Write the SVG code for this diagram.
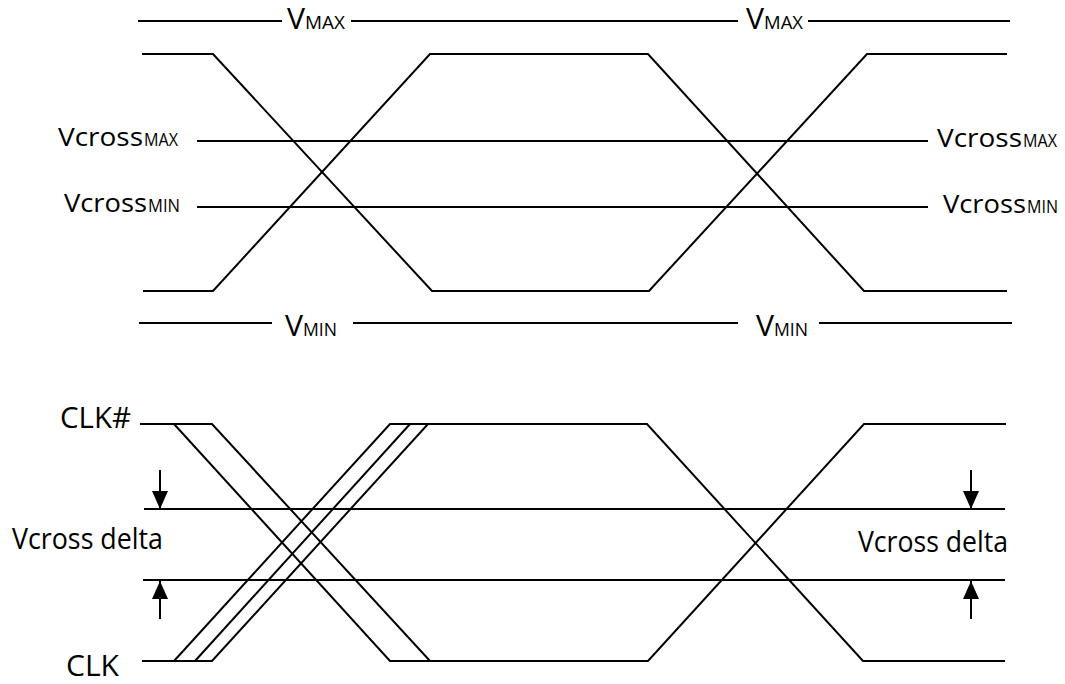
<svg xmlns="http://www.w3.org/2000/svg" width="1065" height="684" viewBox="0 0 1065 684">
<style>
.ln{fill:none;stroke:#000;stroke-width:2;stroke-linejoin:miter}
.t{font-family:"Open Sans","Liberation Sans",sans-serif;fill:#000}
.vbig{font-size:29px}
.vsub{font-size:19px}
.vc{font-size:26px}
.vcs{font-size:18px}
.lab{font-size:29px}
</style>
<defs>
<marker id="ah" markerUnits="userSpaceOnUse" markerWidth="18" markerHeight="16" refX="18" refY="8" orient="auto">
<path d="M0,0 L18,8 L0,16 z" fill="#000"/>
</marker>
</defs>
<rect width="1065" height="684" fill="#fff"/>

<g id="top-levels">
<g id="vmax">
<polyline class="ln" points="138,21 282,21"/>
<polyline class="ln" points="351,21 738,21"/>
<polyline class="ln" points="808,21 1010,21"/>
<text class="t" y="29"><tspan class="vbig" x="287" textLength="18" lengthAdjust="spacingAndGlyphs">V</tspan><tspan class="vsub" x="305" textLength="40" lengthAdjust="spacingAndGlyphs">MAX</tspan></text>
<text class="t" y="29"><tspan class="vbig" x="746" textLength="18" lengthAdjust="spacingAndGlyphs">V</tspan><tspan class="vsub" x="764" textLength="39" lengthAdjust="spacingAndGlyphs">MAX</tspan></text>
</g>
<g id="vmin">
<polyline class="ln" points="139,323 272,323"/>
<polyline class="ln" points="353,323 738,323"/>
<polyline class="ln" points="819,323 1012,323"/>
<text class="t" y="336"><tspan class="vbig" x="285" textLength="18" lengthAdjust="spacingAndGlyphs">V</tspan><tspan class="vsub" x="303" textLength="34" lengthAdjust="spacingAndGlyphs">MIN</tspan></text>
<text class="t" y="336"><tspan class="vbig" x="756" textLength="18" lengthAdjust="spacingAndGlyphs">V</tspan><tspan class="vsub" x="774" textLength="34" lengthAdjust="spacingAndGlyphs">MIN</tspan></text>
</g>
<g id="vcrossmax">
<polyline class="ln" points="197,141 928,141"/>
<text class="t" y="146"><tspan class="vc" x="58" textLength="85" lengthAdjust="spacingAndGlyphs">Vcross</tspan><tspan class="vcs" x="144" textLength="34" lengthAdjust="spacingAndGlyphs">MAX</tspan></text>
<text class="t" y="147"><tspan class="vc" x="937" textLength="85" lengthAdjust="spacingAndGlyphs">Vcross</tspan><tspan class="vcs" x="1023" textLength="34" lengthAdjust="spacingAndGlyphs">MAX</tspan></text>
</g>
<g id="vcrossmin">
<polyline class="ln" points="197,207 928,207"/>
<text class="t" y="212"><tspan class="vc" x="64" textLength="83" lengthAdjust="spacingAndGlyphs">Vcross</tspan><tspan class="vcs" x="148" textLength="32" lengthAdjust="spacingAndGlyphs">MIN</tspan></text>
<text class="t" y="213"><tspan class="vc" x="943" textLength="83" lengthAdjust="spacingAndGlyphs">Vcross</tspan><tspan class="vcs" x="1027" textLength="31" lengthAdjust="spacingAndGlyphs">MIN</tspan></text>
</g>
</g>

<g id="top-waveforms">
<polyline class="ln" points="142,54 213,54 432,291 649,291 867,54 1007,54"/>
<polyline class="ln" points="143,291 213,291 430,54 648,54 864,291 1007,291"/>
</g>

<g id="bottom-levels">
<polyline class="ln" points="144,509 1005,509"/>
<polyline class="ln" points="143,580 1005,580"/>
<text class="t lab" x="12" y="549" textLength="151" lengthAdjust="spacingAndGlyphs">Vcross delta</text>
<text class="t lab" x="858" y="552" textLength="150" lengthAdjust="spacingAndGlyphs">Vcross delta</text>
</g>

<g id="clk-sharp">
<text class="t lab" x="60" y="428" textLength="71" lengthAdjust="spacingAndGlyphs">CLK#</text>
<polyline class="ln" points="140,424 212,424 430,661 648,661 864,424 1006,424"/>
<polyline class="ln" points="174,424 390,661 430,661"/>
</g>

<g id="clk">
<text class="t lab" x="66" y="676" textLength="53" lengthAdjust="spacingAndGlyphs">CLK</text>
<polyline class="ln" points="142,661 212,661 428,424 647,424 863,661 1005,661"/>
<polyline class="ln" points="174,661 390,424 428,424"/>
<polyline class="ln" points="195,661 410,424"/>
</g>

<g id="connectors">
<line class="ln" x1="160" y1="470" x2="160" y2="509" marker-end="url(#ah)"/>
<line class="ln" x1="160" y1="619" x2="160" y2="581" marker-end="url(#ah)"/>
<line class="ln" x1="971" y1="470" x2="971" y2="509" marker-end="url(#ah)"/>
<line class="ln" x1="971" y1="619" x2="971" y2="581" marker-end="url(#ah)"/>
</g>
</svg>
